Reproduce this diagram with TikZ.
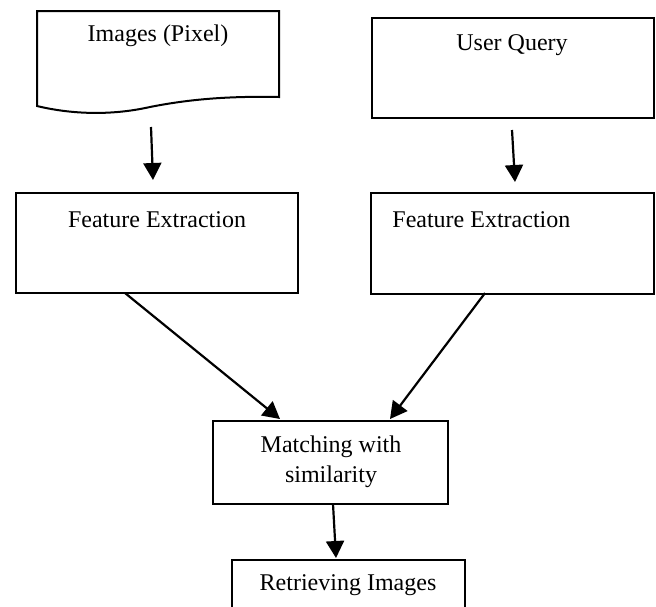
\documentclass[tikz,border=0pt]{standalone}
\usepackage{fontspec}
\setmainfont{Liberation Serif}
\usetikzlibrary{arrows.meta}
\begin{document}
\begin{tikzpicture}[x=0.5pt,y=-0.5pt,
  box/.style={draw=black,line width=1pt,rectangle,inner sep=0pt,fill=none},
  txt/.style={inner sep=0pt,font=\fontsize{12}{15}\selectfont,text=black},
  conn/.style={line width=1.1pt,-{Triangle[length=8.5pt,width=9pt]}}]
\useasboundingbox (0,0) rectangle (656,606);
\clip (0,0) rectangle (656,606);
% document shape
\draw[line width=1pt] (37,11) -- (279,11) -- (279,97)
  .. controls (230,96) and (190,99) .. (150,107)
  .. controls (110,116) and (70,114) .. (37,106) -- cycle;
\coordinate (doc) at (158,60);
\node[txt] (doct) at (158,36) {Images (Pixel)};
% user query
\node[box,minimum width=141pt,minimum height=50pt] (uq) at (513,68) {};
\node[txt] (uqt) at (512,45) {User Query};
% feature extraction boxes
\node[box,minimum width=141pt,minimum height=50pt] (fe1) at (157,243) {};
\node[txt] (fe1t) at (157,220) {Feature Extraction};
\node[box,minimum width=141.5pt,minimum height=50.5pt] (fe2) at (512.5,243.5) {};
\node[txt,anchor=west] (fe2t) at (392,220) {Feature Extraction};
% matching
\node[box,minimum width=117.5pt,minimum height=41.5pt] (match) at (330.5,462.5) {};
\node[txt,align=center] (matcht) at (331,462) {Matching with\\similarity};
% retrieving
\node[box,minimum width=116.5pt,minimum height=40pt] (ret) at (348.5,600) {};
\node[txt] (rett) at (348,585) {Retrieving Images};
% connector end points
\coordinate (a1s) at (151,127); \coordinate (a1e) at (153,180);
\coordinate (a2s) at (512,130); \coordinate (a2e) at (515,182);
\coordinate (a3s) at (125,293); \coordinate (a3e) at (280,419);
\coordinate (a4s) at (485,293); \coordinate (a4e) at (390,419);
\coordinate (a5s) at (333,504); \coordinate (a5e) at (336,558);
\draw[conn] (a1s) -- (a1e);
\draw[conn] (a2s) -- (a2e);
\draw[conn] (a3s) -- (a3e);
\draw[conn] (a4s) -- (a4e);
\draw[conn] (a5s) -- (a5e);
\end{tikzpicture}
\end{document}
